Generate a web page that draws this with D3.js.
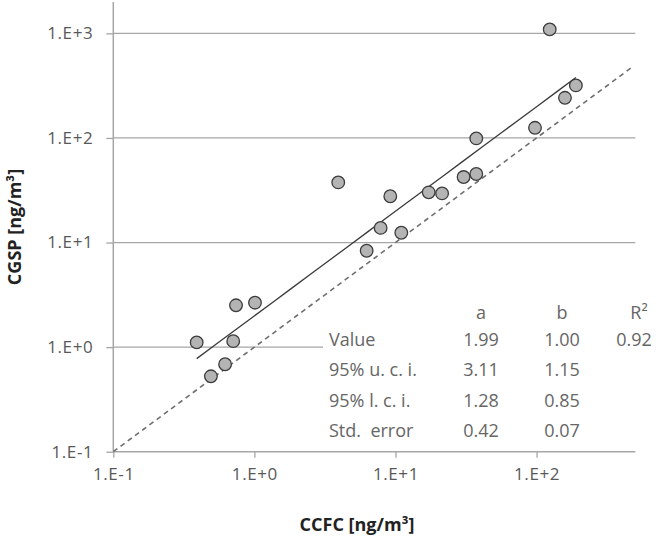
<!DOCTYPE html>
<html>
<head>
<meta charset="utf-8">
<script src="https://cdn.jsdelivr.net/npm/d3@7"></script>
<style>
  html, body { margin: 0; padding: 0; background: #fff; }
  text { font-family: "Open Sans", sans-serif; }
</style>
</head>
<body>
<div id="chart"></div>
<script>
// CCFC (x) vs CGSP (y), ng/m3
const ccfc = [124, 190, 159, 97.5, 37.4, 30.4, 37.4, 17.2, 21.4, 9.19,
              3.93, 7.85, 11.0, 6.25, 0.39, 0.741, 1.01, 0.708, 0.62, 0.492];
const cgsp = [1092, 318, 242, 125, 99, 42.3, 45.2, 30.2, 29.5, 27.7,
              37.6, 13.8, 12.4, 8.35, 1.11, 2.51, 2.66, 1.14, 0.686, 0.526];

const yTicks = [0.1, 1, 10, 100, 1000];
const xTicks = [0.1, 1, 10, 100];
const oneToOne = [0.1, 470];

// power fit y = a * x^b
const fitA = 1.99, fitB = 1.00;

const tableCols = ['a', 'b', 'R\u00B2'];
const tableRows = ['Value', '95% u. c. i.', '95% l. c. i.', 'Std.  error'];
const tableVals = [
  ['1.99', '1.00', '0.92'],
  ['3.11', '1.15', ''],
  ['1.28', '0.85', ''],
  ['0.42', '0.07', '']
];

const width = 656, height = 537;
const grey = '#a6a6a6';

const svg = d3.select('#chart').append('svg')
  .attr('width', width)
  .attr('height', height);

const x = d3.scaleLog()
  .domain([0.1, Math.pow(10, 2.70)])
  .range([113.3, 635.3]);

const y = d3.scaleLog()
  .domain([0.1, Math.pow(10, 3.3)])
  .range([451.7, 2]);

const fmt = d => {
  const e = Math.round(Math.log10(d));
  return '1.E' + (e >= 0 ? '+' : '-') + Math.abs(e);
};

// horizontal gridlines
svg.append('g')
  .selectAll('line')
  .data(yTicks.filter(d => d > 0.1))
  .join('line')
  .attr('x1', x.range()[0])
  .attr('x2', x.range()[1])
  .attr('y1', d => y(d))
  .attr('y2', d => y(d))
  .attr('stroke', grey)
  .attr('stroke-width', 1.3);

// axes
const yAxis = svg.append('g')
  .attr('transform', `translate(${x.range()[0]},0)`)
  .call(d3.axisLeft(y).tickValues(yTicks).tickFormat(fmt).tickSize(7).tickPadding(13));

const xAxis = svg.append('g')
  .attr('transform', `translate(0,${y.range()[0]})`)
  .call(d3.axisBottom(x).tickValues(xTicks).tickFormat(fmt).tickSize(6).tickPadding(10));

[yAxis, xAxis].forEach(ax => {
  ax.select('.domain').attr('stroke', grey).attr('stroke-width', 1.5);
  ax.selectAll('.tick line').attr('stroke', grey).attr('stroke-width', 1.3);
  ax.selectAll('.tick text')
    .attr('fill', '#595959')
    .style('font-size', '17px')
    .style('letter-spacing', '0.6px')
    .style('font-family', '"Open Sans", sans-serif');
});
xAxis.select('.domain').attr('d', `M${x.range()[0]},0H${x.range()[1]}`);
yAxis.select('.domain').attr('d', `M0,${y.range()[0]}V${y.range()[1]}`);

// 1:1 dashed line
const line = d3.line().x(d => x(d[0])).y(d => y(d[1]));
svg.append('path')
  .attr('d', line(oneToOne.map(v => [v, v])))
  .attr('fill', 'none')
  .attr('stroke', '#6f6f6f')
  .attr('stroke-width', 1.6)
  .attr('stroke-dasharray', '5,4');

// fitted line over data range
const xr = d3.extent(ccfc);
const fitPts = d3.range(0, 21).map(i => {
  const xv = xr[0] * Math.pow(xr[1] / xr[0], i / 20);
  return [xv, fitA * Math.pow(xv, fitB)];
});
svg.append('path')
  .attr('d', line(fitPts))
  .attr('fill', 'none')
  .attr('stroke', '#3a3a3a')
  .attr('stroke-width', 1.3);

// table (white box hides gridline behind it)
const tb = svg.append('g');
tb.append('rect')
  .attr('x', 323).attr('y', 298)
  .attr('width', 333).attr('height', 149)
  .attr('fill', '#fff');

const colX = [481, 562, 634];
const headX = [481, 562, 639];
const tStyle = s => s.attr('fill', '#666').style('font-size', '18px');

tb.selectAll('text.head')
  .data(tableCols)
  .join('text')
  .attr('class', 'head')
  .attr('x', (d, i) => headX[i])
  .attr('y', 319)
  .attr('text-anchor', 'middle')
  .text(d => d)
  .call(tStyle);

tableRows.forEach((r, i) => {
  const yy = 346 + i * 30.3;
  tb.append('text')
    .attr('x', 329).attr('y', yy)
    .attr('xml:space', 'preserve')
    .style('white-space', 'pre')
    .text(r)
    .call(tStyle);
  tb.selectAll(null)
    .data(tableVals[i])
    .join('text')
    .attr('x', (d, j) => colX[j])
    .attr('y', yy)
    .attr('text-anchor', 'middle')
    .text(d => d)
    .call(tStyle);
});

// points
svg.append('g')
  .selectAll('circle')
  .data(ccfc.map((v, i) => [v, cgsp[i]]))
  .join('circle')
  .attr('cx', d => x(d[0]))
  .attr('cy', d => y(d[1]))
  .attr('r', 6.3)
  .attr('fill', '#b4b4b4')
  .attr('stroke', '#3c3c3c')
  .attr('stroke-width', 1.3);

// axis titles
svg.append('text')
  .attr('x', 357).attr('y', 531)
  .attr('text-anchor', 'middle')
  .attr('fill', '#222')
  .style('font-size', '18px')
  .style('font-weight', 'bold')
  .text('CCFC [ng/m\u00B3]');

svg.append('text')
  .attr('transform', 'translate(21,227) rotate(-90)')
  .attr('text-anchor', 'middle')
  .attr('fill', '#222')
  .style('font-size', '18px')
  .style('font-weight', 'bold')
  .text('CGSP [ng/m\u00B3]');
</script>
</body>
</html>
